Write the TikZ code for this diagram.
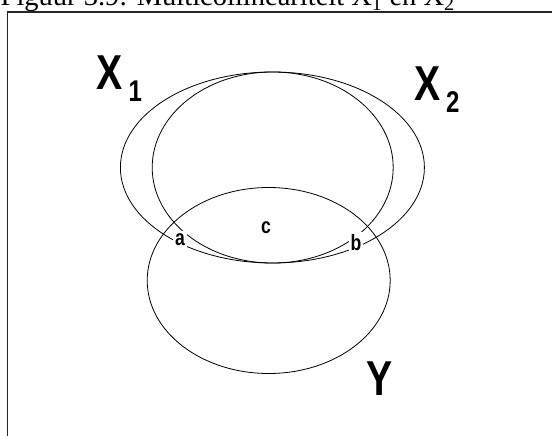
\documentclass[tikz,border=0pt]{standalone}
\usepackage{fontspec}
\setmainfont{Liberation Serif}
\newfontfamily\labfont{Liberation Sans}
\newcommand\narrowtxt[1]{\scalebox{0.8}[1]{#1}}
\begin{document}
\begin{tikzpicture}[x=1pt,y=-1pt,
  venn/.style={draw=black,line width=0.8pt},
  biglab/.style={inner sep=0pt,anchor=base west,font=\labfont\bfseries\fontsize{49}{49}\selectfont},
  sublab/.style={inner sep=0pt,anchor=base west,font=\labfont\bfseries\fontsize{30}{30}\selectfont},
  smalllab/.style={inner sep=2pt,anchor=base,fill=white,font=\labfont\bfseries\fontsize{22}{22}\selectfont},
  titlelab/.style={inner sep=0pt,anchor=base west,font=\fontsize{28.5}{28.5}\selectfont}]
\useasboundingbox (0,0) rectangle (552,436);
\clip (0,0) rectangle (552,436);
\node[titlelab] (title) at (0.5,6) {Figuur 3.9: Multicollineariteit X\textsubscript{1} en X\textsubscript{2}};
\draw[line width=1.6pt,draw=black!85] (7.5,12) rectangle (600,480);
% ellipses
\draw[venn] (272.4,167.5) ellipse [x radius=152pt, y radius=95.5pt];
\draw[venn] (272.7,167.5) ellipse [x radius=120.5pt, y radius=95.5pt];
\draw[venn] (268.7,280.5) ellipse [x radius=121.5pt, y radius=93pt];
% labels
\node[biglab] (x1) at (96,90) {\narrowtxt{X}};
\node[sublab] (x1s) at (128.5,102) {\narrowtxt{1}};
\node[biglab] (x2) at (414,100) {\narrowtxt{X}};
\node[sublab] (x2s) at (446,113) {\narrowtxt{2}};
\node[biglab] (y) at (366,395) {\narrowtxt{Y}};
\node[smalllab] (a) at (180,245) {\narrowtxt{a}};
\node[smalllab] (b) at (356,250) {\narrowtxt{b}};
\node[smalllab,fill=none] (c) at (266,233) {\narrowtxt{c}};
\end{tikzpicture}
\end{document}
